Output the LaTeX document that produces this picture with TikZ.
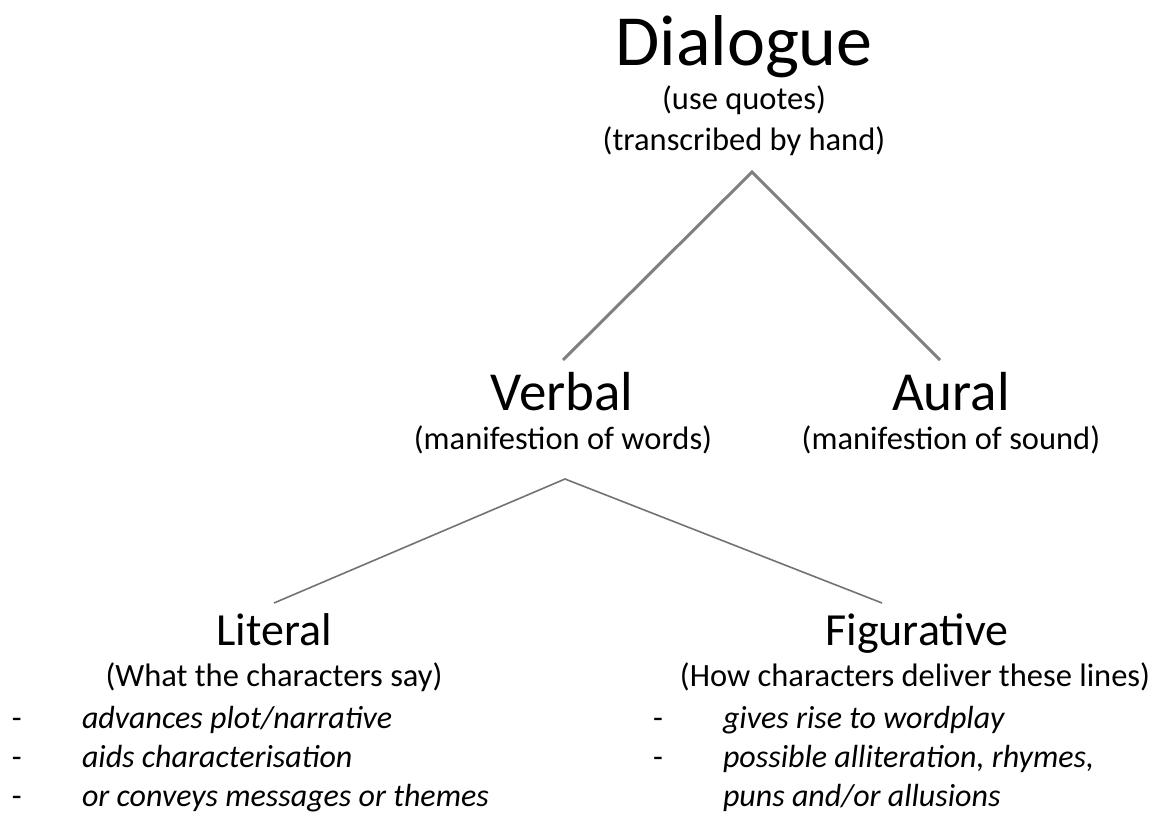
\documentclass[tikz,border=0pt]{standalone}
\usepackage{fontspec}
\setmainfont{Carlito}
\begin{document}
\begin{tikzpicture}[x=1pt,y=-1pt,
  txt/.style={anchor=base,inner sep=0pt,outer sep=0pt,text=black},
  title/.style={txt,font=\fontsize{72}{80}\selectfont},
  head/.style={txt,font=\fontsize{55}{60}\selectfont},
  sub/.style={txt,font=\fontsize{46}{52}\selectfont},
  note/.style={txt,font=\fontsize{32.5}{38}\selectfont},
  item/.style={txt,anchor=base west,font=\fontsize{32}{38}\selectfont\itshape},
  dashmark/.style={txt,anchor=base west,font=\fontsize{32}{38}\selectfont},
  thick link/.style={draw=black!50,line width=3pt},
  thin link/.style={draw=black!55,line width=1.6pt}]
\useasboundingbox (0,0) rectangle (1155,816);
\fill[white] (0,0) rectangle (1155,816);

\node[title] (dialogue) at (744,65) {Dialogue};
\node[note] (quotes) at (744,109) {(use quotes)};
\node[note] (hand) at (744,150) {(transcribed by hand)};

\node[head] (verbal) at (562,410) {Verbal};
\node[note] (words) at (563,449) {(manifestion of words)};
\node[head] (aural) at (951,410) {Aural};
\node[note] (sound) at (951,449) {(manifestion of sound)};

\node[sub] (literal) at (274,645) {Literal};
\node[note] (say) at (274,686) {(What the characters say)};
\node[sub] (figurative) at (917,645) {Figurative};
\node[note] (lines) at (915,686) {(How characters deliver these lines)};

\node[dashmark] (d1) at (12,728) {-};
\node[dashmark] (d2) at (12,767) {-};
\node[dashmark] (d3) at (12,806) {-};
\node[item] (l1) at (82,728) {advances plot/narrative};
\node[item] (l2) at (82,767) {aids characterisation};
\node[item] (l3) at (82,806) {or conveys messages or themes};

\node[dashmark] (d4) at (653,728) {-};
\node[dashmark] (d5) at (653,767) {-};
\node[item] (f1) at (723,728) {gives rise to wordplay};
\node[item] (f2) at (723,767) {possible alliteration, rhymes,};
\node[item] (f3) at (723,806) {puns and/or allusions};

\coordinate (apex1) at (752,172);
\coordinate (vtop) at (563,360);
\coordinate (atop) at (940,360);
\coordinate (apex2) at (565,479);
\coordinate (ltop) at (274,603);
\coordinate (ftop) at (882,603);

\draw[thick link] (vtop) -- (apex1) -- (atop);
\draw[thin link] (ltop) -- (apex2) -- (ftop);
\end{tikzpicture}
\end{document}
